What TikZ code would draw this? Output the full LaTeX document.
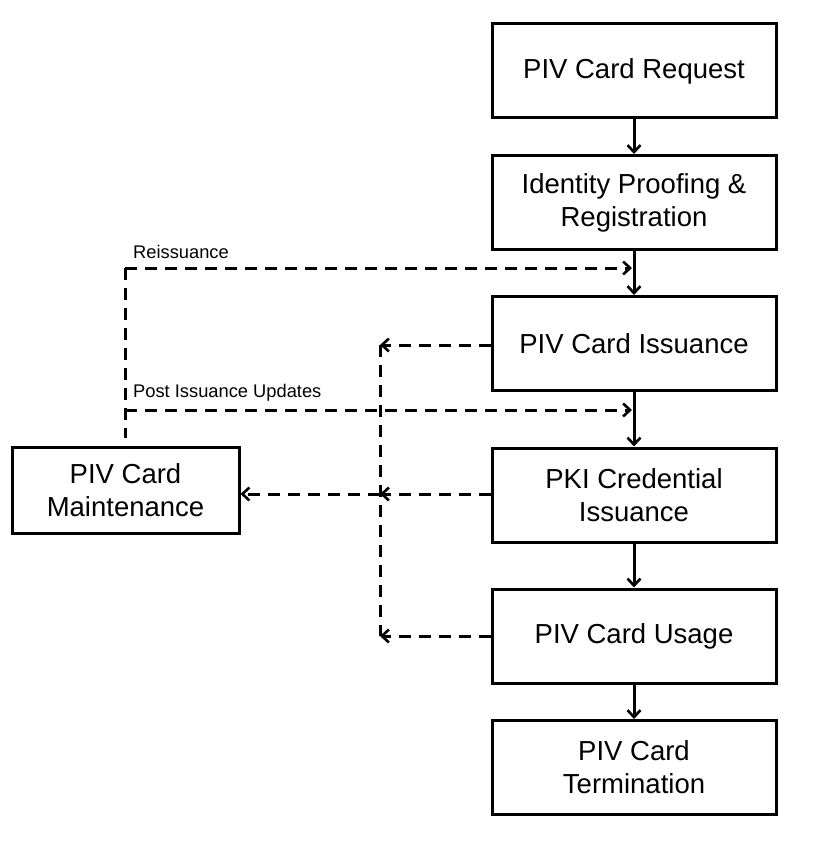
\documentclass[tikz,border=0pt]{standalone}
\usepackage{fontspec}
\setmainfont{Liberation Sans}
\usetikzlibrary{arrows.meta}
\begin{document}
\begin{tikzpicture}[x=1pt,y=-1pt,
  box/.style={draw,line width=3pt,minimum width=284pt,minimum height=94pt,inner sep=0pt,align=center,
    font=\fontsize{27.5}{33}\selectfont},
  flow/.style={line width=3pt,-{Straight Barb[length=7pt,width=13pt,line width=2.6pt]}},
  dflow/.style={line width=3pt,dash pattern=on 12pt off 8pt,-{Straight Barb[length=7pt,width=13pt,line width=2.6pt]}},
  dline/.style={line width=3pt,dash pattern=on 12pt off 8pt},
  lbl/.style={font=\fontsize{18.3}{22}\selectfont,anchor=west,inner sep=0pt}]
\useasboundingbox (0,0) rectangle (816,842);
\node[box] (req) at (634,71) {PIV Card Request};
\node[box] (idp) at (634,202.5) {Identity Proofing \&\\Registration};
\node[box] (iss) at (634,343.5) {PIV Card Issuance};
\node[box] (pki) at (634,495) {PKI Credential\\Issuance};
\node[box] (use) at (634,636) {PIV Card Usage};
\node[box] (term) at (634,767.5) {PIV Card\\Termination};
\node[box,minimum width=227pt,minimum height=86pt] (mnt) at (125.5,490) {PIV Card\\Maintenance};
\draw[flow] (req) -- (idp);
\draw[flow] (idp) -- (iss);
\draw[flow] (iss) -- (pki);
\draw[flow] (pki) -- (use);
\draw[flow] (use) -- (term);
% hub column
\coordinate (h1) at (380,345);
\coordinate (h2) at (380,494);
\coordinate (h3) at (380,636);
\draw[dline] (h1) -- (h3);
\draw[dflow] (iss.west |- h1) -- (h1);
\draw[dflow] (pki.west |- h2) -- (h2);
\draw[dflow] (use.west |- h3) -- (h3);
\draw[dflow] (h2) -- (mnt.east |- h2);
% feedback lines
\coordinate (rtop) at (125,268);
\coordinate (rend) at (632,268);
\coordinate (pend) at (632,410);
\coordinate (pl) at (125,410);
\coordinate (mtop) at (125,438);
\draw[dline] (rtop) -- (mtop);
\draw[dflow] (rtop) -- (rend);
\draw[dflow] (pl) -- (pend);
\node[lbl] (lr) at (133,252) {Reissuance};
\node[lbl] (lp) at (133,393) {Post Issuance Updates};
\end{tikzpicture}
\end{document}
